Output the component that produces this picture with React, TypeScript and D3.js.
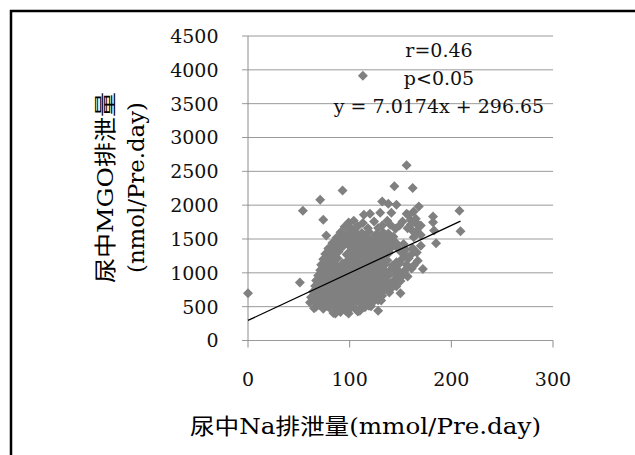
import React, { useRef, useEffect } from 'react';
import * as d3 from 'd3';

// 尿中Na排泄量 (mmol/Pre.day) vs 尿中MGO排泄量 (nmol/Pre.day)
const naValues: number[] = [
  0, 51, 54, 71, 74, 77, 93, 113, 156, 144, 162, 132, 138, 146, 141, 130, 168, 163, 114, 120,
  182, 182, 208, 209, 183, 185, 128, 163, 165, 160, 156, 172, 141, 150, 128, 110, 96, 86, 65,
  84, 91, 99, 108,
  67, 74, 80, 88, 93, 101, 106, 115, 121,
  61, 68, 75, 82, 89, 95, 102, 109, 116, 123, 131,
  62, 69, 76, 83, 90, 97, 104, 111, 118, 125, 132,
  64, 70, 77, 84, 91, 98, 105, 112, 119, 126, 133, 139,
  66, 72, 79, 86, 93, 100, 107, 114, 121, 128, 135, 142, 146,
  67, 74, 81, 88, 95, 102, 109, 116, 123, 130, 137, 144, 150,
  69, 75, 82, 89, 96, 103, 110, 117, 124, 131, 138, 145, 152, 157,
  71, 78, 85, 92, 99, 106, 113, 120, 127, 134, 141, 148, 155, 161,
  72, 79, 86, 93, 100, 107, 114, 121, 128, 135, 142, 149, 156, 163,
  74, 81, 88, 102, 109, 116, 123, 130, 137, 151, 158,
  76, 83, 97, 104, 111, 118, 125, 132, 139, 153, 160,
  79, 86, 92, 106, 113, 120, 127, 134, 141, 148, 155, 162,
  83, 90, 97, 104, 111, 118, 125, 132, 139, 146, 153,
  87, 94, 101, 108, 115, 122, 129, 136, 143,
  91, 98, 105, 112, 119, 133, 138,
  95, 101, 108, 118, 132,
  99, 104, 113,
  124, 137, 149, 157, 166, 170, 160, 152, 145, 140, 158, 165, 168, 162, 170, 166, 170, 167,
  70, 78, 85, 92, 99, 112, 119,
  65, 72, 79, 86, 93, 100, 107, 114, 121, 128,
  66, 73, 80, 87, 94, 101, 108, 115, 122, 129,
  67, 74, 81, 88, 95, 102, 109, 116, 123, 130, 137,
  69, 76, 83, 90, 97, 104, 111, 118, 125, 132, 140,
  71, 78, 85, 92, 99, 106, 113, 120, 127, 134, 148,
  73, 80, 87, 94, 101, 108, 115, 122, 129, 136, 150,
  75, 82, 89, 96, 103, 110, 117, 124, 131, 145, 158,
  77, 84, 97, 104, 111, 118, 125, 132, 146,
  79, 86, 100, 107, 114, 121, 128, 135, 156,
  82, 89, 101, 108, 115, 122, 129, 136, 150,
  85, 92, 99, 106, 113, 120, 127, 136, 145,
  89, 96, 103, 110, 117, 124, 133, 141,
  93, 100, 107, 114, 126,
];

const mgoValues: number[] = [
  700, 858, 1917, 2080, 1783, 1550, 2218, 3914, 2590, 2278, 2253, 2055, 2020, 2005, 1887, 1887, 1981, 1907, 1857, 1872,
  1832, 1748, 1917, 1615, 1625, 1437, 1664, 1526, 1798, 1714, 1872, 1056, 774, 700, 438, 438, 438, 398, 477,
  405, 420, 398, 430,
  500, 470, 488, 462, 495, 478, 470, 490, 505,
  560, 548, 572, 555, 580, 560, 545, 575, 558, 570, 590,
  640, 655, 630, 648, 625, 660, 640, 620, 655, 635, 660,
  720, 735, 705, 728, 745, 712, 730, 700, 740, 718, 735, 708,
  805, 790, 820, 798, 815, 785, 808, 822, 795, 812, 790, 818, 800,
  885, 870, 895, 878, 862, 890, 874, 898, 868, 885, 870, 895, 880,
  960, 975, 950, 968, 980, 955, 972, 948, 965, 985, 958, 975, 960, 945,
  1040, 1055, 1030, 1048, 1062, 1035, 1050, 1028, 1060, 1040, 1055, 1032, 1048, 1065,
  1120, 1135, 1110, 1140, 1118, 1130, 1105, 1142, 1115, 1128, 1108, 1138, 1120, 1110,
  1200, 1190, 1215, 1205, 1188, 1220, 1195, 1210, 1185, 1198, 1215,
  1280, 1295, 1270, 1300, 1285, 1265, 1290, 1275, 1300, 1280, 1265,
  1360, 1345, 1372, 1350, 1370, 1340, 1365, 1350, 1375, 1355, 1340, 1362,
  1440, 1425, 1452, 1435, 1448, 1420, 1445, 1430, 1455, 1438, 1425,
  1520, 1505, 1530, 1512, 1538, 1505, 1525, 1510, 1535,
  1600, 1585, 1612, 1590, 1605, 1595, 1580,
  1680, 1665, 1690, 1660, 1700,
  1745, 1770, 1735,
  1760, 1770, 1700, 1660, 1620, 1700, 1780, 1760, 1650, 1710, 1850, 1750, 1690, 1620, 1560, 1300, 1400, 1180,
  525, 510, 532, 518, 505, 528, 515,
  600, 612, 590, 605, 598, 615, 592, 608, 600, 595,
  680, 672, 690, 678, 685, 668, 692, 675, 688, 680,
  760, 770, 752, 765, 758, 772, 750, 768, 755, 762, 770,
  840, 832, 848, 838, 852, 835, 845, 830, 850, 842, 836,
  920, 928, 912, 925, 918, 932, 915, 922, 930, 910, 925,
  1000, 992, 1008, 995, 1012, 998, 1005, 990, 1010, 1002, 995,
  1080, 1088, 1072, 1085, 1078, 1092, 1075, 1082, 1090, 1070, 1085,
  1160, 1152, 1168, 1158, 1165, 1150, 1162, 1170, 1155,
  1240, 1232, 1248, 1238, 1245, 1230, 1242, 1250, 1235,
  1320, 1312, 1328, 1318, 1325, 1310, 1322, 1330, 1315,
  1400, 1392, 1408, 1398, 1405, 1390, 1402, 1410, 1395,
  1480, 1472, 1488, 1478, 1485, 1470, 1482, 1490,
  1560, 1552, 1568, 1558, 1565,
];

const xTicks = [0, 100, 200, 300];
const yTicks = [0, 500, 1000, 1500, 2000, 2500, 3000, 3500, 4000, 4500];
const statLines = ['r=0.46', 'p<0.05', 'y = 7.0174x + 296.65'];
const slope = 7.0174;
const intercept = 296.65;
const xTitle = '尿中Na排泄量(mmol/Pre.day)';
const yTitleLines = ['尿中MGO排泄量', '(nmol/Pre.day)'];

const App = () => {
  const svgRef = useRef<SVGSVGElement>(null);

  useEffect(() => {
    const svg = d3.select(svgRef.current);
    svg.selectAll('*').remove();

    const font = "'DejaVu Serif', 'Noto Sans CJK JP', serif";

    const xScale = d3.scaleLinear().domain([0, 300]).range([248, 553]);
    const yScale = d3.scaleLinear().domain([0, 4500]).range([340.5, 36]);

    svg.append('rect').attr('width', 635).attr('height', 455).attr('fill', '#fff');

    // outer frame (runs off the right and bottom edge)
    svg.append('rect')
      .attr('x', 11).attr('y', 11)
      .attr('width', 700).attr('height', 500)
      .attr('fill', 'none')
      .attr('stroke', '#000')
      .attr('stroke-width', 2.5);

    // gridlines + y ticks
    svg.append('g')
      .selectAll('line')
      .data(yTicks)
      .enter()
      .append('line')
      .attr('x1', 242)
      .attr('x2', xScale(300))
      .attr('y1', (d) => yScale(d))
      .attr('y2', (d) => yScale(d))
      .attr('stroke', '#9a9a9a')
      .attr('stroke-width', 1);

    svg.append('line')
      .attr('x1', xScale(0)).attr('x2', xScale(0))
      .attr('y1', yScale(4500)).attr('y2', yScale(0))
      .attr('stroke', '#8c8c8c');

    svg.append('g')
      .selectAll('line')
      .data(xTicks)
      .enter()
      .append('line')
      .attr('x1', (d) => xScale(d))
      .attr('x2', (d) => xScale(d))
      .attr('y1', yScale(0))
      .attr('y2', yScale(0) + 7)
      .attr('stroke', '#8c8c8c');

    svg.append('g')
      .selectAll('text')
      .data(yTicks)
      .enter()
      .append('text')
      .attr('x', 218.5)
      .attr('y', (d) => yScale(d))
      .attr('dy', '0.36em')
      .attr('text-anchor', 'end')
      .attr('font-family', font)
      .attr('font-size', 19)
      .attr('fill', '#111')
      .text((d) => d);

    svg.append('g')
      .selectAll('text')
      .data(xTicks)
      .enter()
      .append('text')
      .attr('x', (d) => xScale(d))
      .attr('y', 379)
      .attr('dy', '0.36em')
      .attr('text-anchor', 'middle')
      .attr('font-family', font)
      .attr('font-size', 19)
      .attr('fill', '#111')
      .text((d) => d);

    // points
    const points = naValues.map((x, i) => ({ x, y: mgoValues[i] }));
    const r = 5;
    svg.append('g')
      .selectAll('path')
      .data(points)
      .enter()
      .append('path')
      .attr('transform', (d) => `translate(${xScale(d.x)},${yScale(d.y)})`)
      .attr('d', `M0,${-r}L${r},0L0,${r}L${-r},0Z`)
      .attr('fill', '#808080');

    // trend line
    const xMax = d3.max(naValues) as number;
    svg.append('line')
      .attr('x1', xScale(0))
      .attr('y1', yScale(intercept))
      .attr('x2', xScale(xMax))
      .attr('y2', yScale(slope * xMax + intercept))
      .attr('stroke', '#000')
      .attr('stroke-width', 1.3);

    // stats text
    svg.append('g')
      .selectAll('text')
      .data(statLines)
      .enter()
      .append('text')
      .attr('x', 439)
      .attr('y', (d, i) => 56.7 + i * 28)
      .attr('text-anchor', 'middle')
      .attr('font-family', font)
      .attr('font-size', 19)
      .attr('fill', '#111')
      .text((d) => d);

    // axis titles
    svg.append('text')
      .attr('x', 365.5)
      .attr('y', 426)
      .attr('dy', '0.35em')
      .attr('text-anchor', 'middle')
      .attr('font-family', font)
      .attr('font-size', 22)
      .attr('textLength', 351)
      .attr('lengthAdjust', 'spacingAndGlyphs')
      .attr('fill', '#000')
      .text(xTitle);

    const yTitleX = [105, 136];
    const yTitleLen = [191, 171];
    yTitleLines.forEach((line, i) => {
      svg.append('text')
        .attr('transform', `translate(${yTitleX[i]},187.5) rotate(-90)`)
        .attr('dy', '0.35em')
        .attr('text-anchor', 'middle')
        .attr('font-family', font)
        .attr('font-size', 22)
        .attr('textLength', yTitleLen[i])
        .attr('lengthAdjust', 'spacingAndGlyphs')
        .attr('fill', '#000')
        .text(line);
    });
  }, []);

  return (
    <div>
      <svg
        ref={svgRef}
        width={635}
        height={455}
        style={{ position: 'absolute', left: 0, top: 0 }}
      />
    </div>
  );
};

export default App;
